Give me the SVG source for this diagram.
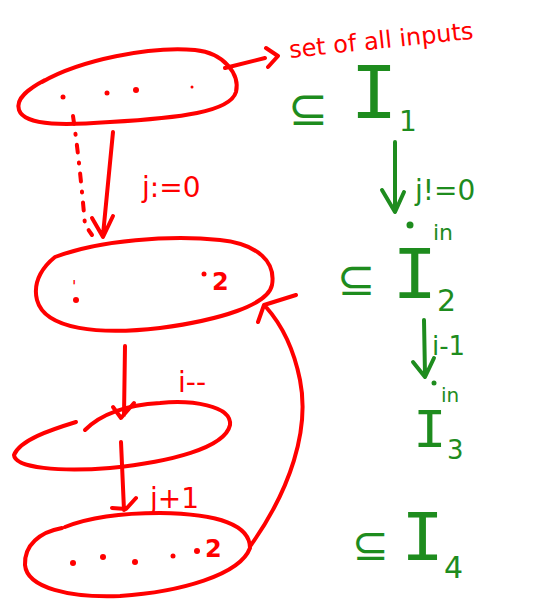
<svg xmlns="http://www.w3.org/2000/svg" width="534" height="601" viewBox="0 0 534 601">
<defs>
<style>
.r{fill:none;stroke:#ff0000;stroke-width:4;stroke-linecap:round;stroke-linejoin:round}
.rd{fill:#ff0000}
.g{fill:none;stroke:#1e8c1e;stroke-width:4;stroke-linecap:round;stroke-linejoin:round}
.rt{fill:#ff0000;font-family:"DejaVu Sans",sans-serif}
.gt{fill:#1e8c1e;font-family:"DejaVu Sans",sans-serif}
.gi{fill:#1e8c1e;font-family:"Liberation Mono",monospace}
</style>
</defs>
<rect width="534" height="601" fill="#ffffff"/>
<g id="set1">
<path class="r" d="M42,82 C80,60 150,46 195,50 C225,53 240,75 236,92 C230,112 180,118 110,122 C70,125 25,127 19,110 C15,98 30,88 45,80"/>
<circle class="rd" cx="63" cy="97" r="2.5"/><circle class="rd" cx="107" cy="93" r="2.5"/><circle class="rd" cx="136" cy="90" r="3"/><circle class="rd" cx="192" cy="87" r="1.5"/>
</g>
<g id="set2">
<path class="r" d="M55,257 C100,240 170,235 220,240 C258,244 276,262 272,285 C268,305 220,320 160,328 C100,335 45,330 37,300 C32,280 45,265 55,257"/>
<circle class="rd" cx="76" cy="300" r="3"/><circle class="rd" cx="204" cy="274" r="2.5"/>
<text class="rt" x="72" y="292" font-size="16">'</text>
<text class="rt" x="212" y="290" font-size="24" font-weight="bold">2</text>
</g>
<g id="set3">
<path class="r" d="M76,422 C50,430 20,440 14,455 C15,468 60,472 110,468 C170,462 225,448 230,425 C232,405 190,400 160,403 C125,405 100,415 85,430"/>
</g>
<g id="set4">
<path class="r" d="M62,528 C40,532 24,545 25,565 C27,588 70,598 120,596 C180,592 240,575 250,548 C250,525 220,514 160,513 C120,513 90,517 65,527"/>
<circle class="rd" cx="73" cy="563" r="3"/><circle class="rd" cx="103" cy="557" r="3"/><circle class="rd" cx="135" cy="562" r="3"/><circle class="rd" cx="173" cy="556" r="2.5"/><circle class="rd" cx="197" cy="551" r="3"/>
<text class="rt" x="205" y="557" font-size="24" font-weight="bold">2</text>
</g>
<g id="connectors">
<path class="r" d="M225,68 L265,58 M266,48 L278,56 L268,67"/>
<path class="r" stroke-width="3" stroke-dasharray="8,10,1,10" d="M73,116 C78,150 82,190 85,225 L92,235"/>
<path class="r" d="M113,132 L103,235 M92,218 L103,237 L113,216"/>
<path class="r" d="M125,346 L124,415 M113,407 L121,418 L134,403"/>
<path class="r" d="M121,442 L124,510 M112,508 L126,509 L136,498"/>
<path class="r" d="M251,545 C290,490 310,430 300,380 C294,350 282,325 266,307 M258,322 L264,305 L296,295"/>
<path class="g" d="M395,142 L395,210 M382,190 L395,212 L404,192"/>
<path class="g" d="M424,320 L425,375 M413,362 L425,377 L434,358"/>
</g>
<g id="labels">
<text class="rt" transform="translate(290,58) rotate(-6)" font-size="24">set of all inputs</text>
<text class="rt" x="142" y="197" font-size="28">j:=0</text>
<text class="rt" x="178" y="392" font-size="28">i--</text>
<text class="rt" x="150" y="508" font-size="28">j+1</text>
<text class="gt" x="288" y="125" font-size="48">⊆</text>
<text class="gi" x="350" y="118" font-size="80">I</text>
<text class="gt" x="399" y="131" font-size="28">1</text>
<text class="gt" x="415" y="200" font-size="28">j!=0</text>
<circle cx="410" cy="225" r="3.5" fill="#1e8c1e"/>
<text class="gt" x="433" y="240" font-size="22">in</text>
<text class="gt" x="337" y="295" font-size="46">⊆</text>
<text class="gi" x="392" y="298" font-size="76">I</text>
<text class="gt" x="437" y="311" font-size="30">2</text>
<text class="gt" x="432" y="355" font-size="26">i-1</text>
<circle cx="434" cy="383" r="2.5" fill="#1e8c1e"/>
<text class="gt" x="441" y="402" font-size="20">in</text>
<text class="gi" x="413" y="447" font-size="56">I</text>
<text class="gt" x="447" y="459" font-size="26">3</text>
<text class="gt" x="352" y="560" font-size="44">⊆</text>
<text class="gi" x="401" y="560" font-size="72">I</text>
<text class="gt" x="444" y="578" font-size="30">4</text>
</g>
</svg>
